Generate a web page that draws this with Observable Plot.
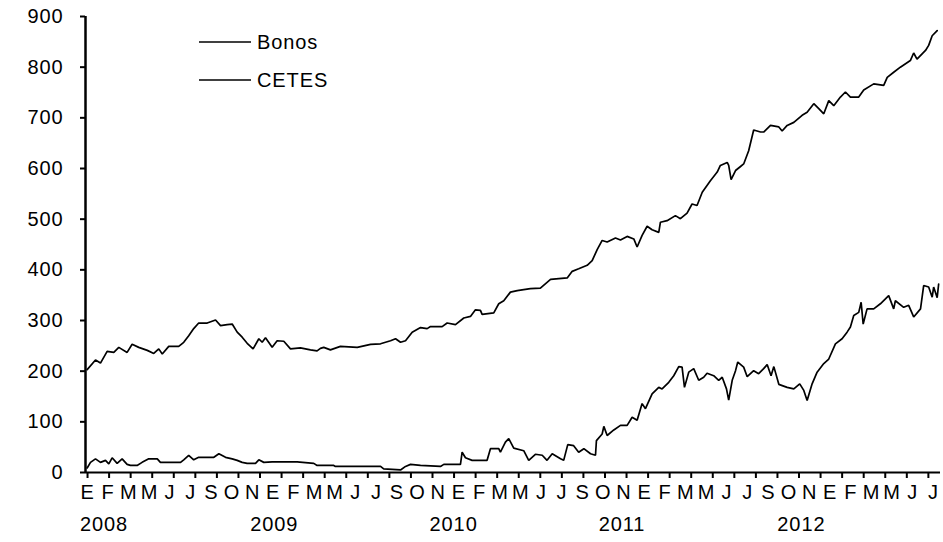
<!DOCTYPE html>
<html>
<head>
<meta charset="utf-8">
<script src="https://cdn.jsdelivr.net/npm/d3@7"></script>
<script src="https://cdn.jsdelivr.net/npm/@observablehq/plot@0.6"></script>
<style>
  html, body { margin: 0; padding: 0; background: #fff; }
  #chart svg { display: block; }
  #chart svg text { letter-spacing: 0.9px; }
</style>
</head>
<body>
<div id="chart"></div>
<script>
// ---- Data (time in decimal years) ----
const seriesNames = ["Bonos", "CETES"];
const bonosT = [2008.009,2008.054,2008.081,2008.117,2008.153,2008.180,2008.225,2008.252,2008.288,2008.334,2008.369,2008.396,2008.415,2008.450,2008.504,2008.531,2008.558,2008.585,2008.612,2008.658,2008.703,2008.730,2008.766,2008.793,2008.820,2008.847,2008.874,2008.906,2008.937,2008.955,2008.973,2009.009,2009.036,2009.072,2009.108,2009.162,2009.216,2009.252,2009.270,2009.288,2009.324,2009.378,2009.469,2009.541,2009.595,2009.649,2009.676,2009.703,2009.730,2009.766,2009.811,2009.847,2009.865,2009.928,2009.955,2010.000,2010.045,2010.081,2010.108,2010.135,2010.144,2010.207,2010.234,2010.261,2010.297,2010.334,2010.369,2010.405,2010.459,2010.514,2010.604,2010.631,2010.666,2010.712,2010.739,2010.766,2010.793,2010.820,2010.865,2010.892,2010.928,2010.964,2010.982,2011.009,2011.036,2011.063,2011.099,2011.108,2011.144,2011.189,2011.216,2011.252,2011.279,2011.306,2011.334,2011.378,2011.415,2011.432,2011.469,2011.477,2011.490,2011.514,2011.541,2011.558,2011.585,2011.612,2011.649,2011.666,2011.703,2011.748,2011.766,2011.793,2011.829,2011.874,2011.901,2011.937,2011.964,2011.991,2012.018,2012.045,2012.081,2012.108,2012.135,2012.180,2012.207,2012.261,2012.315,2012.334,2012.369,2012.405,2012.459,2012.477,2012.495,2012.541,2012.558,2012.577,2012.604];
const bonosV = [203,222,216,239,237,247,237,253,247,241,235,244,234,249,249,257,270,284,295,295,301,290,292,293,277,267,255,244,264,257,266,247,260,259,244,246,242,240,245,247,242,249,247,253,254,260,264,257,260,277,286,284,288,288,295,292,305,308,321,320,312,315,333,339,356,359,361,363,364,381,384,397,402,409,418,440,458,455,463,459,466,461,445,468,486,479,474,494,497,507,501,512,530,527,553,576,593,606,612,606,578,596,604,609,635,676,672,672,685,682,674,685,691,705,711,728,718,708,734,724,741,751,741,741,755,767,764,780,790,800,813,828,816,833,843,862,872];
const cetesT = [2008.009,2008.027,2008.054,2008.081,2008.108,2008.126,2008.144,2008.171,2008.198,2008.225,2008.243,2008.279,2008.306,2008.342,2008.388,2008.405,2008.514,2008.531,2008.558,2008.585,2008.612,2008.694,2008.721,2008.757,2008.793,2008.820,2008.847,2008.874,2008.919,2008.937,2008.964,2009.009,2009.090,2009.144,2009.234,2009.252,2009.342,2009.351,2009.595,2009.612,2009.703,2009.730,2009.757,2009.811,2009.919,2009.937,2010.027,2010.036,2010.054,2010.090,2010.171,2010.189,2010.234,2010.243,2010.270,2010.288,2010.315,2010.369,2010.396,2010.432,2010.469,2010.495,2010.523,2010.568,2010.585,2010.607,2010.639,2010.666,2010.694,2010.730,2010.757,2010.762,2010.793,2010.802,2010.820,2010.856,2010.892,2010.928,2010.955,2010.982,2011.009,2011.027,2011.063,2011.099,2011.117,2011.153,2011.180,2011.207,2011.225,2011.238,2011.261,2011.288,2011.315,2011.342,2011.360,2011.396,2011.423,2011.442,2011.465,2011.477,2011.496,2011.514,2011.526,2011.558,2011.577,2011.612,2011.639,2011.666,2011.685,2011.706,2011.721,2011.748,2011.793,2011.829,2011.861,2011.883,2011.901,2011.928,2011.955,2011.991,2012.018,2012.054,2012.090,2012.117,2012.135,2012.153,2012.180,2012.193,2012.204,2012.225,2012.261,2012.297,2012.342,2012.369,2012.378,2012.423,2012.450,2012.477,2012.514,2012.531,2012.558,2012.577,2012.585,2012.604,2012.612];
const cetesV = [9,20,27,20,24,17,29,18,27,16,14,14,20,27,27,20,20,25,34,25,30,30,37,30,27,24,20,18,18,25,20,21,21,21,18,14,14,12,12,7,5,12,16,14,12,16,16,40,29,24,24,47,47,40,60,67,48,43,24,36,34,24,37,27,24,55,53,40,47,37,34,63,76,91,73,84,93,93,109,103,136,126,155,168,165,178,191,209,208,168,198,205,182,188,196,191,182,188,165,143,182,201,218,208,189,201,195,205,213,191,209,174,168,165,175,162,142,175,198,215,224,254,264,277,287,310,316,336,293,323,323,333,349,323,339,326,330,307,323,369,366,346,366,345,372];

// Axis ticks and labels
const yTicks = [0,100,200,300,400,500,600,700,800,900];
const monthLetters = ["E","F","M","M","J","J","S","O","N"];
const yearLabels = ["2008","2009","2010","2011","2012"];
const yearLabelPos = [2008.10, 2009.02, 2009.99, 2010.90, 2011.87];
const nMonthLabels = 42;
const nTickMarks = 40;

// ---- Build tables ----
const bonos = bonosT.map((t, i) => ({t, v: bonosV[i], s: seriesNames[0]}));
const cetes = cetesT.map((t, i) => ({t, v: cetesV[i], s: seriesNames[1]}));
const monthPos = d3.range(nMonthLabels).map(i => 2008.011 + i * 0.11152);
const monthText = monthPos.map((_, i) => monthLetters[i % monthLetters.length]);
const tickPos = d3.range(nTickMarks).map(k => 2008.011 + k * 0.11655);

const FONT = 20;
const X0 = 2008, X1 = 2012.622;
const pxPerYear = 855 / (X1 - X0);
const pxPerUnit = 456 / 900;
const chart = Plot.plot({
  width: 943, height: 542,
  marginLeft: 85, marginRight: 3, marginTop: 16, marginBottom: 70,
  x: {type: "linear", domain: [X0, X1], axis: null},
  y: {domain: [0, 900], axis: null},
  style: {fontFamily: "'Liberation Sans', Arial, sans-serif", fontSize: FONT + "px", color: "#000", background: "#fff", overflow: "visible"},
  marks: [
    Plot.ruleX(tickPos, {x: d => d, y1: 0, y2: -6 / pxPerUnit, stroke: "#000", strokeWidth: 2}),
    Plot.ruleY(yTicks, {y: d => d, x1: X0 - 5 / pxPerYear, x2: X0, stroke: "#000", strokeWidth: 2}),
    Plot.ruleX([X0], {stroke: "#000", strokeWidth: 2.5}),
    Plot.ruleY([0], {stroke: "#000", strokeWidth: 2}),
    Plot.text(yTicks, {y: d => d, text: d => String(d), frameAnchor: "left", dx: -22, textAnchor: "end", fontSize: FONT, fill: "#000"}),
    Plot.text(monthPos, {x: d => d, text: (d, i) => monthText[i], frameAnchor: "bottom", dy: 26, fontSize: FONT, fill: "#000"}),
    Plot.text(yearLabelPos, {x: d => d, text: (d, i) => yearLabels[i], frameAnchor: "bottom", dy: 58, fontSize: FONT, fill: "#000"}),
    Plot.line(bonos, {x: "t", y: "v", stroke: "#000", strokeWidth: 1.7, strokeLinejoin: "miter"}),
    Plot.line(cetes, {x: "t", y: "v", stroke: "#000", strokeWidth: 1.7, strokeLinejoin: "miter"})
  ]
});

// Legend (not data)
const svg = d3.select(chart);
const legendY = [42, 80];
seriesNames.forEach((name, i) => {
  svg.append("line").attr("x1", 199).attr("x2", 251).attr("y1", legendY[i]).attr("y2", legendY[i])
    .attr("stroke", "#000").attr("stroke-width", 1.5);
  svg.append("text").attr("x", 257).attr("y", legendY[i]).attr("dy", "0.35em")
    .attr("text-anchor", "start").attr("fill", "#000").style("font-size", FONT + "px").text(name);
});

document.getElementById("chart").appendChild(chart);
</script>
</body>
</html>
